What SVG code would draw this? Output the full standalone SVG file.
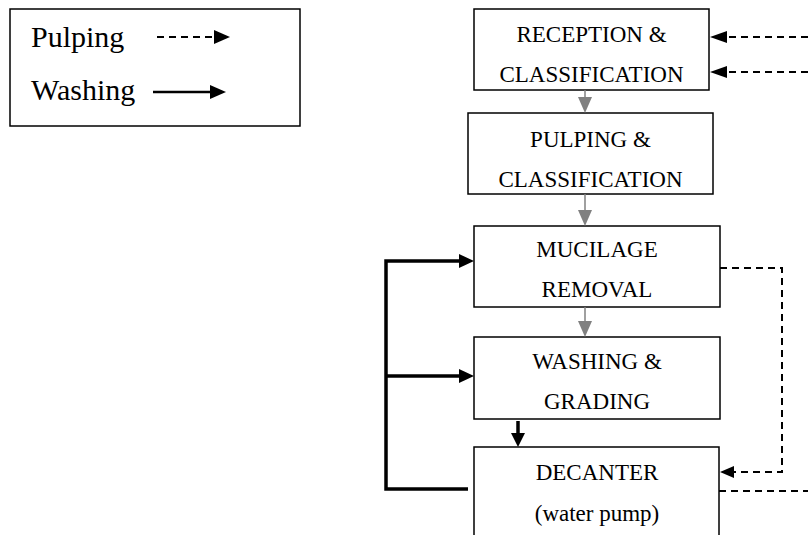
<svg xmlns="http://www.w3.org/2000/svg" width="808" height="535" viewBox="0 0 808 535">
<style>
.box{fill:#fff;stroke:#000;stroke-width:1.5}
.t{font-family:"Liberation Serif","Times New Roman",serif;font-size:23px;fill:#000;text-anchor:middle}
.lg{font-family:"Liberation Serif","Times New Roman",serif;font-size:30px;fill:#000}
.gray{stroke:#808080;stroke-width:1.5;fill:none}
.dash{stroke:#000;stroke-width:2;fill:none;stroke-dasharray:7,5}
.thick{stroke:#000;stroke-width:3.5;fill:none}
.thin{stroke:#000;stroke-width:2.5;fill:none}
</style>
<rect width="808" height="535" fill="#fff"/>
<g id="legend">
<rect class="box" x="10" y="9" width="290" height="117"/>
<text class="lg" x="31" y="47">Pulping</text>
<text class="lg" x="31" y="100">Washing</text>
<line class="dash" x1="157" y1="37" x2="214" y2="37" stroke-width="2.3"/>
<polygon points="214,30 230,37 214,44" fill="#000"/>
<line class="thin" x1="153" y1="92" x2="211" y2="92"/>
<polygon points="210,85 226,92 210,99" fill="#000"/>
</g>
<g id="n1">
<rect class="box" x="474" y="9" width="235" height="81"/>
<text class="t" x="591.5" y="42">RECEPTION &amp;</text>
<text class="t" x="591.5" y="82">CLASSIFICATION</text>
</g>
<g id="n2">
<rect class="box" x="468" y="113" width="245" height="81"/>
<text class="t" x="590.5" y="147">PULPING &amp;</text>
<text class="t" x="590.5" y="187">CLASSIFICATION</text>
</g>
<g id="n3">
<rect class="box" x="474" y="226" width="246" height="81"/>
<text class="t" x="597" y="257">MUCILAGE</text>
<text class="t" x="597" y="297">REMOVAL</text>
</g>
<g id="n4">
<rect class="box" x="474" y="337" width="246" height="82"/>
<text class="t" x="597" y="369">WASHING &amp;</text>
<text class="t" x="597" y="409">GRADING</text>
</g>
<g id="n5">
<rect class="box" x="474" y="447" width="245" height="100"/>
<text class="t" x="597" y="480">DECANTER</text>
<text class="t" x="597" y="521">(water pump)</text>
</g>
<g id="connectors">
<line class="gray" x1="585" y1="90" x2="585" y2="98"/>
<polygon points="578,97 592,97 585,113" fill="#808080"/>
<line class="gray" x1="585" y1="194" x2="585" y2="211"/>
<polygon points="578,210 592,210 585,226" fill="#808080"/>
<line class="gray" x1="585" y1="307" x2="585" y2="322"/>
<polygon points="578,321 592,321 585,337" fill="#808080"/>
<line class="thick" x1="518" y1="421" x2="518" y2="434"/>
<polygon points="511,433 525,433 518,447" fill="#000"/>
<polyline class="thick" points="468,489 386,489 386,261 460,261"/>
<polygon points="459,254 474,261 459,268" fill="#000"/>
<line class="thick" x1="386" y1="376" x2="460" y2="376"/>
<polygon points="459,369 474,376 459,383" fill="#000"/>
<polyline class="dash" points="720,268 782,268 782,472 733,472"/>
<polygon points="734,466 720,472 734,478" fill="#000"/>
<line class="dash" x1="719" y1="491" x2="808" y2="491"/>
<line class="dash" x1="808" y1="37" x2="724" y2="37"/>
<polygon points="727,31 710,37 727,43" fill="#000"/>
<line class="dash" x1="808" y1="72" x2="724" y2="72"/>
<polygon points="727,66 710,72 727,78" fill="#000"/>
</g>
</svg>
